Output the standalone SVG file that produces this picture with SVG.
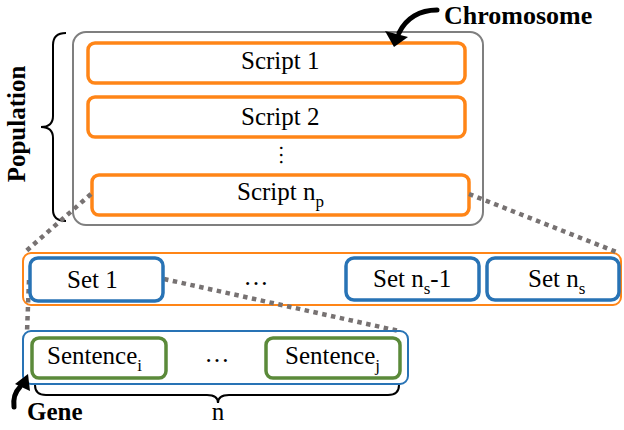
<svg xmlns="http://www.w3.org/2000/svg" width="624" height="430" viewBox="0 0 624 430">
<style>
.t{font-family:"Liberation Serif",Tinos,"Times New Roman","DejaVu Serif",serif;font-size:25px;fill:#000}
.b{font-weight:bold}
.gray{fill:#fff;stroke:#7f7f7f;stroke-width:2}
.orange{fill:#fff;stroke:#ff8517;stroke-width:3.5}
.orange2{fill:#fff;stroke:#ff8517;stroke-width:2}
.blue{fill:#fff;stroke:#2873b5;stroke-width:3.5}
.blue2{fill:none;stroke:#2873b5;stroke-width:2}
.green{fill:#fff;stroke:#5b8a3a;stroke-width:3.5}
.dot{fill:none;stroke:#777272;stroke-width:4.5;stroke-dasharray:4.5 4.5}
.brace{fill:none;stroke:#000;stroke-width:2}
.arr{fill:none;stroke:#000;stroke-width:5;stroke-linecap:round}
</style>
<rect width="624" height="430" fill="#fff"/>
<g id="chromosome">
<rect class="gray" x="73" y="32" width="410" height="193" rx="13"/>
</g>
<g id="script1">
<rect class="orange" x="88" y="43" width="377" height="40" rx="7"/>
<text class="t" x="241" y="69">Script 1</text>
</g>
<g id="script2">
<rect class="orange" x="88" y="97" width="377" height="40" rx="7"/>
<text class="t" x="241" y="125">Script 2</text>
</g>
<g id="vdots">
<text class="t" transform="translate(280,155) rotate(90)" text-anchor="middle" style="font-size:21px">…</text>
</g>
<g id="scriptnp">
<rect class="orange" x="92" y="175" width="377" height="40" rx="7"/>
<text class="t" x="237" y="200">Script n<tspan dy="7" style="font-size:17px">p</tspan></text>
</g>
<g id="population">
<path class="brace" d="M66,33 Q53,33 53,45 L53,116 Q53,127 41,127 Q53,127 53,138 L53,210 Q53,221 66,221"/>
<text class="t b" transform="translate(25,124) rotate(-90)" text-anchor="middle">Population</text>
</g>
<g id="chromosome-label">
<path class="arr" d="M437,10 C420,10 406,18 399,33"/>
<polygon points="394,47 385,31 408,37" fill="#000"/>
<text class="t b" x="444" y="24" style="font-size:26px">Chromosome</text>
</g>
<g id="setrow">
<rect class="orange2" x="23" y="253" width="598" height="52" rx="8"/>
</g>
<g id="connectors">
<line class="dot" x1="91" y1="194" x2="25" y2="252"/>
<line class="dot" x1="469" y1="194" x2="619" y2="253"/>
<line class="dot" x1="29" y1="280" x2="27" y2="332"/>
<line class="dot" x1="164" y1="279" x2="399" y2="331"/>
</g>
<g id="set1">
<rect class="blue" x="30" y="258" width="133" height="43" rx="8"/>
<text class="t" x="67" y="288">Set 1</text>
</g>
<g id="hdots1">
<text class="t" x="256" y="285" text-anchor="middle">…</text>
</g>
<g id="setns1">
<rect class="blue" x="346" y="258" width="133" height="42" rx="8"/>
<text class="t" x="373" y="287">Set n<tspan dy="7" style="font-size:17px">s</tspan><tspan dy="-7">-1</tspan></text>
</g>
<g id="setns">
<rect class="blue" x="487" y="258" width="132" height="42" rx="8"/>
<text class="t" x="528" y="287">Set n<tspan dy="7" style="font-size:17px">s</tspan></text>
</g>
<g id="gene">
<rect class="blue2" x="23" y="331" width="385" height="53" rx="8"/>
</g>
<g id="sentencei">
<rect class="green" x="32" y="338" width="134" height="40" rx="7"/>
<text class="t" x="47" y="364">Sentence<tspan dy="7" style="font-size:17px">i</tspan></text>
</g>
<g id="hdots2">
<text class="t" x="217" y="362" text-anchor="middle">…</text>
</g>
<g id="sentencej">
<rect class="green" x="266" y="338" width="134" height="40" rx="7"/>
<text class="t" x="285" y="364">Sentence<tspan dy="7" style="font-size:17px">j</tspan></text>
</g>
<g id="n-brace">
<path class="brace" d="M35,385 Q35,395 46,395 L207,395 Q218,395 218,403 Q218,395 229,395 L388,395 Q399,395 399,385"/>
<text class="t" x="218" y="420" text-anchor="middle">n</text>
</g>
<g id="gene-label">
<path class="arr" d="M14,407 C13,398 16,391 20,387"/>
<polygon points="28,374 15,384 30,391" fill="#000"/>
<text class="t b" x="27" y="420">Gene</text>
</g>
</svg>
